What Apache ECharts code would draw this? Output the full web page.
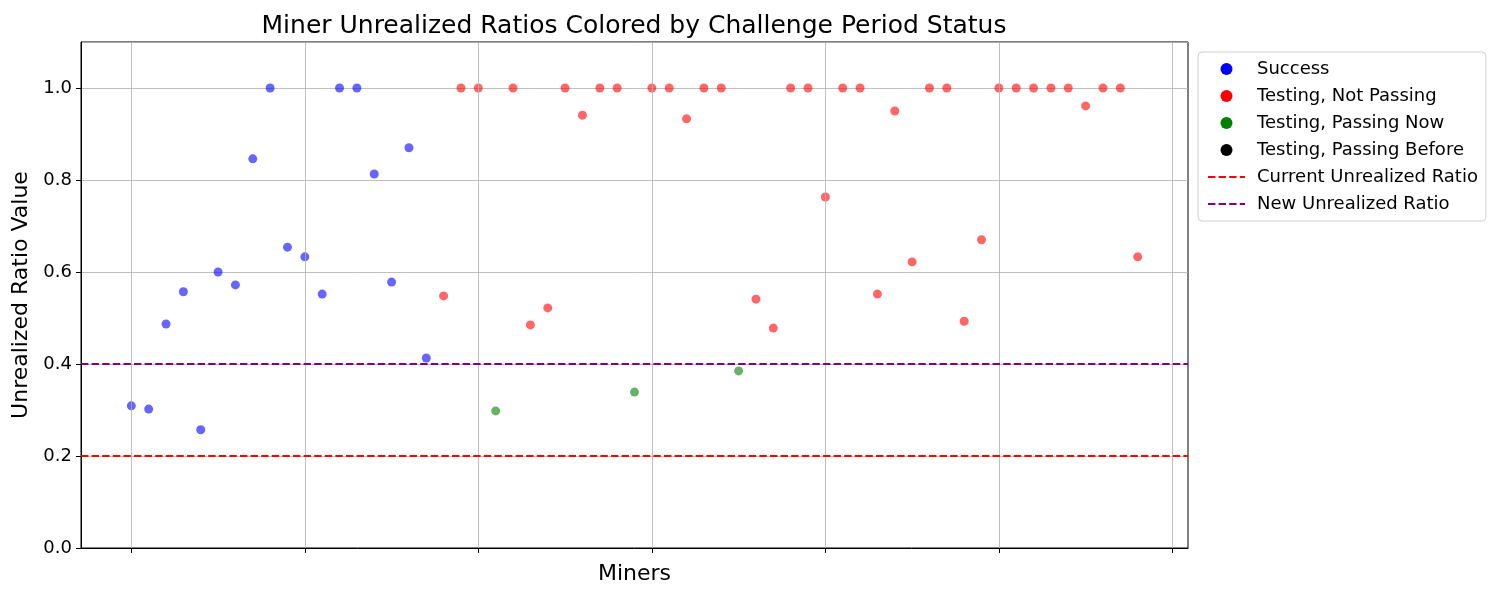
<!DOCTYPE html>
<html>
<head>
<meta charset="utf-8">
<script src="https://cdn.jsdelivr.net/npm/echarts@6/dist/echarts.min.js"></script>
<style>
  html, body { margin: 0; padding: 0; background: #fff; }
  #main { width: 1500px; height: 600px; }
</style>
</head>
<body>
<div id="main"></div>
<script>
// miner index on the x axis
var miners = []
for (var i = 0; i < 59; i++) miners.push(i)

var ratios = [
  0.309, 0.302, 0.487, 0.557, 0.257, 0.600, 0.572, 0.846, 1.0, 0.654,
  0.633, 0.552, 1.0, 1.0, 0.813, 0.578, 0.870, 0.413, 0.548, 1.0,
  1.0, 0.298, 1.0, 0.485, 0.522, 1.0, 0.941, 1.0, 1.0, 0.339,
  1.0, 1.0, 0.933, 1.0, 1.0, 0.385, 0.541, 0.478, 1.0, 1.0,
  0.763, 1.0, 1.0, 0.552, 0.950, 0.622, 1.0, 1.0, 0.493, 0.670,
  1.0, 1.0, 1.0, 1.0, 1.0, 0.961, 1.0, 1.0, 0.633
]

// S = Success, N = Testing, Not Passing, P = Testing, Passing Now
var statuses = [
  'S', 'S', 'S', 'S', 'S', 'S', 'S', 'S', 'S', 'S',
  'S', 'S', 'S', 'S', 'S', 'S', 'S', 'S', 'N', 'N',
  'N', 'P', 'N', 'N', 'N', 'N', 'N', 'N', 'N', 'P',
  'N', 'N', 'N', 'N', 'N', 'P', 'N', 'N', 'N', 'N',
  'N', 'N', 'N', 'N', 'N', 'N', 'N', 'N', 'N', 'N',
  'N', 'N', 'N', 'N', 'N', 'N', 'N', 'N', 'N'
]

var currentRatio = 0.2
var newRatio = 0.4
var xTicks = [0, 10, 20, 30, 40, 50, 60]

function pick (code) {
  var out = []
  miners.forEach(function (m, i) {
    if (statuses[i] === code) out.push([m, ratios[i]])
  })
  return out
}

var font = 'DejaVu Sans'
var dash = [7.4, 3.2]

function scatter (name, color, data) {
  return {
    name: name,
    type: 'scatter',
    data: data,
    symbolSize: 9,
    itemStyle: { color: color, opacity: 0.6 },
    z: 3
  }
}

function hline (name, color, value) {
  return {
    name: name,
    type: 'line',
    data: [],
    symbol: 'none',
    lineStyle: { color: color, width: 2, type: dash },
    itemStyle: { color: color },
    z: 4,
    markLine: {
      silent: true,
      symbol: 'none',
      label: { show: false },
      lineStyle: { color: color, width: 2, type: dash },
      data: [{ yAxis: value }]
    }
  }
}

function lineLegend (name, color) {
  return {
    name: name,
    itemStyle: { color: 'transparent', borderColor: 'transparent', borderWidth: 0 },
    lineStyle: { color: color, width: 2, type: dash }
  }
}

var chart = echarts.init(document.getElementById('main'))
chart.setOption({
  animation: false,
  textStyle: { fontFamily: font },
  graphic: [{
    type: 'text',
    x: 634,
    y: 26,
    style: {
      text: 'Miner Unrealized Ratios Colored by Challenge Period Status',
      font: '25px "DejaVu Sans"',
      fill: '#000',
      textAlign: 'center',
      textVerticalAlign: 'middle'
    }
  }],
  grid: {
    left: 81, right: 312, top: 42, bottom: 52,
    show: true, borderColor: '#000', borderWidth: 1, backgroundColor: 'transparent'
  },
  legend: {
    orient: 'vertical',
    left: 1198,
    top: 52,
    padding: [8, 8, 8, 9],
    itemWidth: 37,
    itemHeight: 12,
    itemGap: 9,
    backgroundColor: '#fff',
    borderColor: '#d0d0d0',
    borderWidth: 1,
    borderRadius: 4,
    textStyle: { fontFamily: font, fontSize: 18, color: '#000', padding: [0, 0, 0, 7] },
    data: [
      { name: 'Success', icon: 'circle', itemStyle: { opacity: 1 } },
      { name: 'Testing, Not Passing', icon: 'circle', itemStyle: { opacity: 1 } },
      { name: 'Testing, Passing Now', icon: 'circle', itemStyle: { opacity: 1 } },
      { name: 'Testing, Passing Before', icon: 'circle', itemStyle: { opacity: 1 } },
      lineLegend('Current Unrealized Ratio', '#ff0000'),
      lineLegend('New Unrealized Ratio', '#800080')
    ]
  },
  xAxis: {
    type: 'value',
    min: -2.9,
    max: 60.9,
    name: 'Miners',
    nameLocation: 'middle',
    nameGap: 15,
    nameTextStyle: { fontFamily: font, fontSize: 22, color: '#000' },
    axisLine: { show: true, onZero: false, lineStyle: { color: '#000', width: 1 } },
    axisTick: { show: true, length: 5, customValues: xTicks, lineStyle: { color: '#000' } },
    axisLabel: { show: false },
    splitLine: { show: false }
  },
  yAxis: {
    type: 'value',
    min: 0,
    max: 1.1,
    interval: 0.2,
    name: 'Unrealized Ratio Value',
    nameLocation: 'middle',
    nameGap: 48,
    nameTextStyle: { fontFamily: font, fontSize: 22, color: '#000' },
    axisLine: { show: true, onZero: false, lineStyle: { color: '#000', width: 1 } },
    axisTick: { show: true, length: 5, lineStyle: { color: '#000' } },
    axisLabel: {
      fontFamily: font, fontSize: 18, color: '#000', margin: 9,
      showMaxLabel: false,
      formatter: function (v) { return v > 1.05 ? '' : v.toFixed(1) }
    },
    splitLine: { show: true, lineStyle: { color: '#b0b0b0', width: 0.8 } }
  },
  series: [
    {
      type: 'scatter',
      data: [],
      silent: true,
      z: 1,
      markLine: {
        silent: true,
        symbol: 'none',
        label: { show: false },
        lineStyle: { color: '#b0b0b0', width: 0.8, type: 'solid' },
        data: xTicks.map(function (t) { return { xAxis: t } })
      }
    },
    scatter('Success', '#0000ff', pick('S')),
    scatter('Testing, Not Passing', '#ff0000', pick('N')),
    scatter('Testing, Passing Now', '#008000', pick('P')),
    scatter('Testing, Passing Before', '#000000', []),
    hline('Current Unrealized Ratio', '#ff0000', currentRatio),
    hline('New Unrealized Ratio', '#800080', newRatio)
  ]
})
</script>
</body>
</html>
